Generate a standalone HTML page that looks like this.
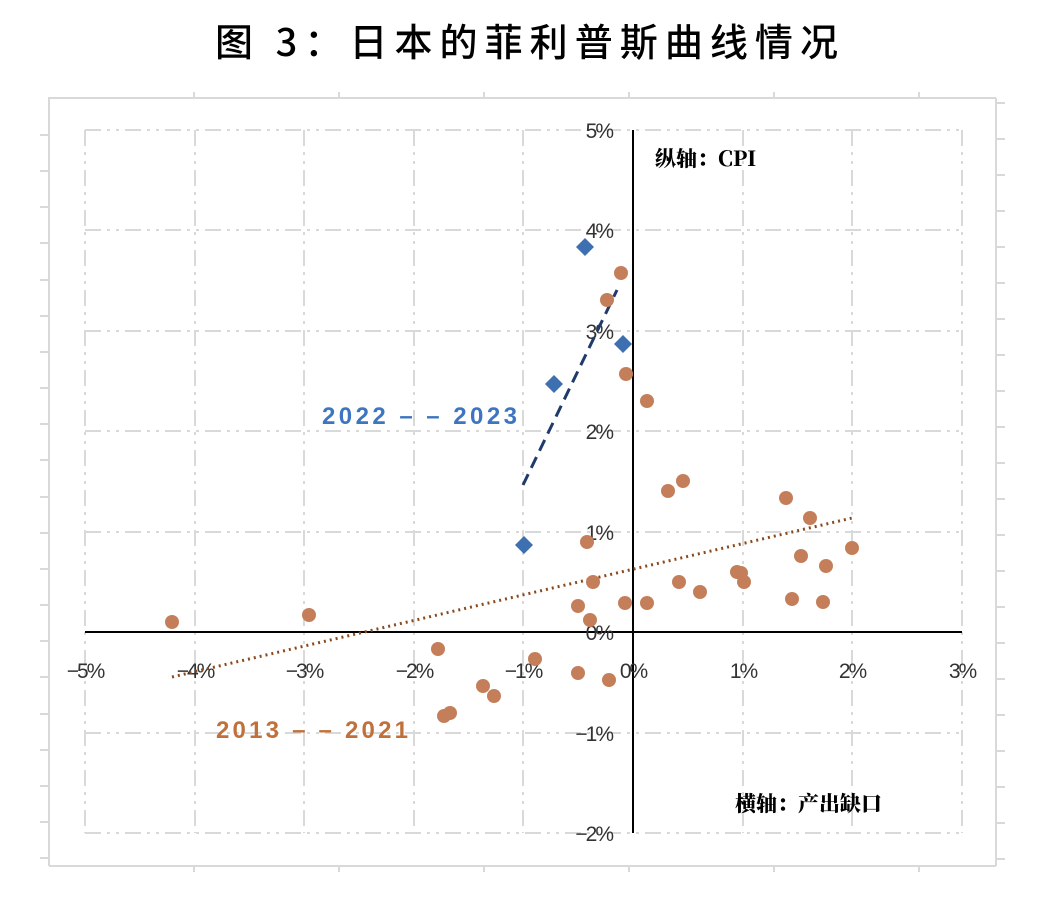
<!DOCTYPE html>
<html><head><meta charset="utf-8"><style>
html,body{margin:0;padding:0;background:#fff;width:1048px;height:906px;overflow:hidden}
</style></head><body>
<svg width="1048" height="906" xmlns="http://www.w3.org/2000/svg">
<text x="215" y="56" textLength="623" lengthAdjust="spacing" font-family="'Noto Sans CJK SC',sans-serif" font-size="38" font-weight="500" fill="#000">图 3：日本的菲利普斯曲线情况</text>
<g stroke="#d9d9d9" stroke-width="2" fill="none">
<path d="M49 97V866M49 98H996M996 98V866M49 866H996"/>
<path d="M40 135H49M40 171H49M40 207H49M40 243H49M40 280H49M40 316H49M40 352H49M40 388H49M40 424H49M40 460H49M40 497H49M40 533H49M40 569H49M40 605H49M40 641H49M40 677H49M40 714H49M40 750H49M40 786H49M40 822H49M40 858H49"/>
<path d="M996 103H1005M996 139H1005M996 175H1005M996 211H1005M996 247H1005M996 283H1005M996 319H1005M996 355H1005M996 391H1005M996 427H1005M996 463H1005M996 499H1005M996 535H1005M996 571H1005M996 607H1005M996 643H1005M996 679H1005M996 715H1005M996 751H1005M996 787H1005M996 823H1005M996 859H1005"/>
<path d="M194 92V98M339 92V98M484 92V98M629 92V98M774 92V98M919 92V98M194 866V872M339 866V872M484 866V872M629 866V872M774 866V872M919 866V872"/>
</g>
<g stroke="#d9d9d9" stroke-width="2" fill="none" stroke-dasharray="16,6,3,6,3,6">
<path d="M85 130H962M85 230H962M85 331H962M85 431H962M85 532H962M85 733H962M85 833H962"/>
<path d="M85 130V833M195 130V833M304 130V833M414 130V833M523 130V833M743 130V833M852 130V833M962 130V833"/>
</g>
<g stroke="#000" stroke-width="2"><path d="M85 632H962M633 130V833"/></g>
<g font-family="'Liberation Sans',sans-serif" font-size="21" fill="#333" text-anchor="end" letter-spacing="-2">
<text x="612" y="138">5%</text><text x="612" y="238">4%</text><text x="612" y="339">3%</text><text x="612" y="439">2%</text><text x="612" y="540">1%</text><text x="612" y="640">0%</text><text x="612" y="741">−1%</text><text x="612" y="841">−2%</text>
</g>
<g font-family="'Liberation Sans',sans-serif" font-size="21" fill="#333" text-anchor="middle" letter-spacing="-2">
<text x="85" y="678">−5%</text><text x="195" y="678">−4%</text><text x="304" y="678">−3%</text><text x="414" y="678">−2%</text><text x="523" y="678">−1%</text><text x="633" y="678">0%</text><text x="743" y="678">1%</text><text x="852" y="678">2%</text><text x="962" y="678">3%</text>
</g>
<g font-family="'Noto Serif CJK SC',serif" font-weight="900" font-size="21" fill="#000">
<text x="655" y="166">纵轴：CPI</text>
<text x="735" y="811">横轴：产出缺口</text>
</g>
<line x1="172" y1="677" x2="852" y2="518" stroke="#8b4a1e" stroke-width="3" stroke-dasharray="2,4"/>
<line x1="523" y1="485" x2="617" y2="290" stroke="#1f3a6b" stroke-width="3" stroke-dasharray="12,7"/>
<g fill="#c47f5a">
<circle cx="172" cy="622" r="7"/><circle cx="309" cy="615" r="7"/><circle cx="438" cy="649" r="7"/><circle cx="444" cy="716" r="7"/><circle cx="450" cy="713" r="7"/><circle cx="483" cy="686" r="7"/><circle cx="494" cy="696" r="7"/><circle cx="535" cy="659" r="7"/><circle cx="578" cy="606" r="7"/><circle cx="578" cy="673" r="7"/><circle cx="587" cy="542" r="7"/><circle cx="590" cy="620" r="7"/><circle cx="593" cy="582" r="7"/><circle cx="609" cy="680" r="7"/><circle cx="607" cy="300" r="7"/><circle cx="621" cy="273" r="7"/><circle cx="625" cy="603" r="7"/><circle cx="626" cy="374" r="7"/><circle cx="647" cy="401" r="7"/><circle cx="647" cy="603" r="7"/><circle cx="668" cy="491" r="7"/><circle cx="679" cy="582" r="7"/><circle cx="683" cy="481" r="7"/><circle cx="700" cy="592" r="7"/><circle cx="737" cy="572" r="7"/><circle cx="741" cy="573" r="7"/><circle cx="744" cy="582" r="7"/><circle cx="786" cy="498" r="7"/><circle cx="792" cy="599" r="7"/><circle cx="801" cy="556" r="7"/><circle cx="810" cy="518" r="7"/><circle cx="823" cy="602" r="7"/><circle cx="826" cy="566" r="7"/><circle cx="852" cy="548" r="7"/>
</g>
<g fill="#3e6fb0">
<path d="M585 238l9 9-9 9-9-9z"/><path d="M554 375l9 9-9 9-9-9z"/><path d="M623 335l9 9-9 9-9-9z"/><path d="M524 536l9 9-9 9-9-9z"/>
</g>
<text x="322" y="424" textLength="195" lengthAdjust="spacing" font-family="'Liberation Sans',sans-serif" font-weight="bold" font-size="24" fill="#3e75c0">2022 – – 2023</text>
<text x="216" y="738" textLength="192" lengthAdjust="spacing" font-family="'Liberation Sans',sans-serif" font-weight="bold" font-size="24" fill="#c0703a">2013 – – 2021</text>
</svg>
</body></html>
